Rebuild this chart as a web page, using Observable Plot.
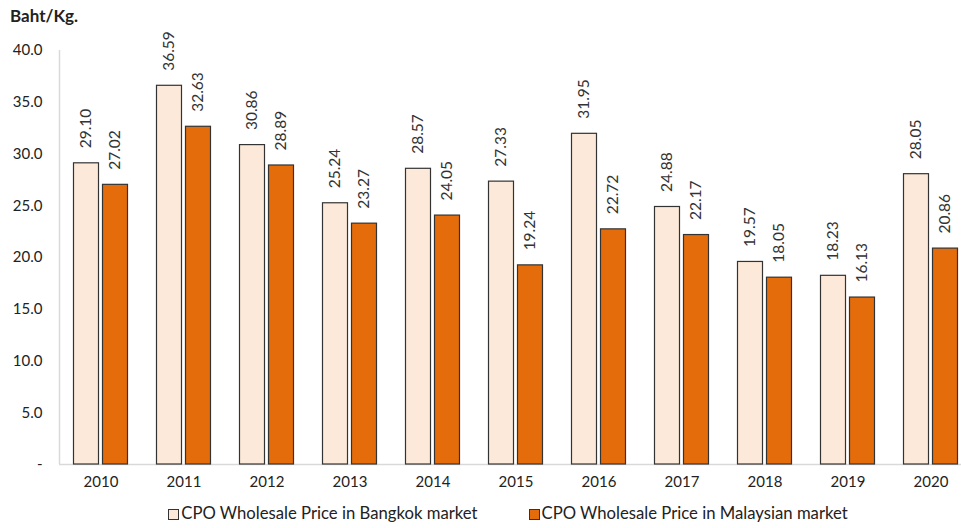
<!DOCTYPE html>
<html><head><meta charset="utf-8">
<script src="https://cdn.jsdelivr.net/npm/d3@7"></script>
<script src="https://cdn.jsdelivr.net/npm/@observablehq/plot@0.6"></script>
<style>
body{margin:0;background:#fff;font-family:Lato,"Open Sans",sans-serif;}
#wrap{position:relative;width:961px;height:528px;}
#ylab{position:absolute;left:10px;top:5px;font-weight:bold;font-size:17px;color:#222;}
#legend{position:absolute;top:503px;left:0;width:961px;display:flex;justify-content:center;gap:51px;font-size:16.7px;color:#222;padding-left:55px;box-sizing:border-box;}
#legend span.sw{display:inline-block;width:9px;height:9px;border:1px solid #333;margin-right:2px;vertical-align:-1px;}
</style></head>
<body><div id="wrap"><div id="chart"></div><div id="ylab">Baht/Kg.</div><div id="legend"></div></div>
<script>
const years = ["2010","2011","2012","2013","2014","2015","2016","2017","2018","2019","2020"];
const bangkok = [29.10,36.59,30.86,25.24,28.57,27.33,31.95,24.88,19.57,18.23,28.05];
const malaysia = [27.02,32.63,28.89,23.27,24.05,19.24,22.72,22.17,18.05,16.13,20.86];
const seriesNames = ["CPO Wholesale Price in Bangkok market","CPO Wholesale Price in Malaysian market"];
const colors = ["#FDE9D9","#E46C0A"];
const yTicks = [0,5,10,15,20,25,30,35,40];

const bk = years.map((y,i)=>({year:y,value:bangkok[i]}));
const my = years.map((y,i)=>({year:y,value:malaysia[i]}));

const plot = Plot.plot({
  width:961, height:495,
  marginLeft:59, marginRight:0, marginTop:50, marginBottom:31,
  style:{fontFamily:"Lato, 'Open Sans', sans-serif", fontSize:"15px", color:"#222"},
  x:{domain:years, range:[59,972], padding:0, label:null, tickSize:0, tickPadding:12},
  y:{domain:[0,40], label:null, ticks:yTicks, tickSize:0, tickPadding:17,
     tickFormat:d=>d===0?"-":d.toFixed(1)},
  marks:[
    Plot.ruleY([0],{stroke:"#d9d9d9",strokeWidth:1.5}),
    Plot.ruleX([years[0]],{y1:0,y2:40,dx:-41.5,stroke:"#d9d9d9",strokeWidth:1.5}),
    Plot.barY(bk,{x:"year",y:"value",fill:colors[0],stroke:"#333",strokeWidth:1.2,insetLeft:14.5,insetRight:43.5}),
    Plot.barY(my,{x:"year",y:"value",fill:colors[1],stroke:"#333",strokeWidth:1.2,insetLeft:43.5,insetRight:14.5}),
    Plot.text(bk,{x:"year",y:"value",text:d=>d.value.toFixed(2),rotate:-90,textAnchor:"start",dx:-14.5,dy:-15,fontSize:15.5,fill:"#333"}),
    Plot.text(my,{x:"year",y:"value",text:d=>d.value.toFixed(2),rotate:-90,textAnchor:"start",dx:14.5,dy:-15,fontSize:15.5,fill:"#333"})
  ]
});
document.getElementById("chart").appendChild(plot);
const lg=document.getElementById("legend");
seriesNames.forEach((n,i)=>{const d=document.createElement("div");d.innerHTML=`<span class="sw" style="background:${colors[i]}"></span>${n}`;lg.appendChild(d);});
</script></body></html>
